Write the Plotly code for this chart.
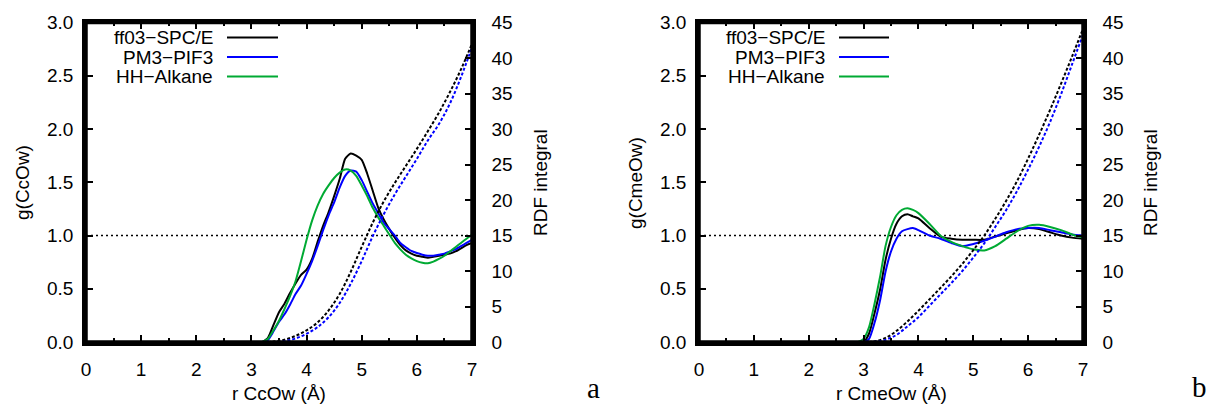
import plotly.graph_objects as go

# ---------------- data ----------------
series_names = ["ff03\u2212SPC/E", "PM3\u2212PIF3", "HH\u2212Alkane"]
series_colors = ["#000000", "#0000ff", "#00aa33"]

# Panel a: r CcOw
r_a = [3.2, 3.3, 3.4, 3.5, 3.6, 3.7, 3.8, 3.9, 4.0, 4.1, 4.2, 4.3, 4.4, 4.5, 4.6,
       4.7, 4.8, 4.9, 5.0, 5.1, 5.2, 5.3, 5.4, 5.5, 5.6, 5.7, 5.8, 5.9, 6.0, 6.1,
       6.2, 6.3, 6.4, 6.5, 6.6, 6.7, 6.8, 6.9, 7.0]
g_a_ff03 = [0.0, 0.04, 0.16, 0.28, 0.36, 0.46, 0.55, 0.63, 0.68, 0.78, 0.94, 1.09,
            1.22, 1.37, 1.53, 1.72, 1.77, 1.75, 1.71, 1.58, 1.42, 1.26, 1.15, 1.06,
            0.98, 0.91, 0.86, 0.83, 0.81, 0.80, 0.79, 0.80, 0.81, 0.82, 0.83, 0.85,
            0.88, 0.91, 0.93]
g_a_pm3 = [0.0, 0.02, 0.10, 0.19, 0.26, 0.35, 0.45, 0.53, 0.64, 0.76, 0.90, 1.05,
           1.19, 1.31, 1.45, 1.56, 1.61, 1.60, 1.52, 1.41, 1.30, 1.21, 1.12, 1.06,
           1.00, 0.93, 0.89, 0.855, 0.835, 0.82, 0.81, 0.81, 0.82, 0.83, 0.85, 0.87,
           0.90, 0.93, 0.96]
g_a_hh = [0.0, 0.03, 0.11, 0.20, 0.31, 0.43, 0.57, 0.76, 0.96, 1.14, 1.28, 1.39,
          1.47, 1.54, 1.59, 1.62, 1.61, 1.56, 1.47, 1.37, 1.26, 1.17, 1.09, 1.01,
          0.93, 0.87, 0.82, 0.785, 0.76, 0.745, 0.74, 0.755, 0.78, 0.81, 0.85, 0.89,
          0.93, 0.97, 1.01]

r_a_int = [3.2, 3.4, 3.6, 3.8, 4.0, 4.2, 4.4, 4.6, 4.8, 5.0, 5.2, 5.4, 5.6, 5.8,
           6.0, 6.2, 6.4, 6.6, 6.8, 7.0]
n_a_ff03 = [0.0, 0.06, 0.33, 0.86, 1.64, 2.76, 4.45, 6.77, 9.87, 13.4, 16.8, 19.8,
            22.4, 24.8, 27.2, 29.7, 32.3, 35.2, 38.4, 42.0]
n_a_pm3 = [0.0, 0.0, 0.12, 0.5, 1.15, 2.1, 3.5, 5.5, 8.2, 11.4, 14.9, 18.0, 20.8,
           23.3, 25.8, 28.4, 30.7, 33.6, 37.3, 41.5]

# Panel b: r CmeOw
r_b = [2.9, 3.0, 3.1, 3.2, 3.3, 3.4, 3.5, 3.6, 3.7, 3.8, 3.9, 4.0, 4.2, 4.4, 4.6,
       4.8, 5.0, 5.2, 5.4, 5.6, 5.8, 6.0, 6.2, 6.4, 6.6, 6.8, 7.0]
g_b_ff03 = [0.0, 0.0, 0.08, 0.27, 0.49, 0.77, 0.97, 1.11, 1.18, 1.20, 1.18, 1.16,
            1.07, 0.99, 0.97, 0.96, 0.96, 0.96, 0.99, 1.02, 1.05, 1.07, 1.06, 1.03,
            1.00, 0.98, 0.97]
g_b_pm3 = [0.0, 0.0, 0.03, 0.18, 0.39, 0.66, 0.85, 0.97, 1.04, 1.06, 1.07, 1.05,
           1.00, 0.97, 0.93, 0.90, 0.92, 0.95, 0.99, 1.03, 1.06, 1.07, 1.07, 1.05,
           1.03, 1.01, 1.00]
g_b_hh = [0.0, 0.03, 0.14, 0.36, 0.61, 0.90, 1.08, 1.19, 1.24, 1.255, 1.24, 1.21,
          1.11, 1.00, 0.94, 0.90, 0.87, 0.86, 0.90, 0.97, 1.04, 1.09, 1.10, 1.08,
          1.05, 1.01, 0.98]

r_b_int = [3.0, 3.2, 3.4, 3.6, 3.8, 4.0, 4.2, 4.4, 4.6, 4.8, 5.0, 5.2, 5.4, 5.6,
           5.8, 6.0, 6.2, 6.4, 6.6, 6.8, 7.0]
n_b_ff03 = [0.0, 0.09, 0.57, 1.56, 2.9, 4.4, 6.0, 7.6, 9.25, 11.0, 12.95, 15.0,
            17.35, 19.9, 22.7, 25.85, 29.2, 32.7, 36.4, 40.2, 44.1]
n_b_pm3 = [0.0, 0.03, 0.3, 1.0, 2.2, 3.5, 5.1, 6.7, 8.3, 10.0, 11.9, 13.9, 16.2,
           18.6, 21.3, 24.3, 27.5, 31.0, 34.9, 39.1, 43.3]

ref_r = [0.0, 7.0]
ref_g = [1.0, 1.0]

x_ticks = [0, 1, 2, 3, 4, 5, 6, 7]
y_ticks = [0.0, 0.5, 1.0, 1.5, 2.0, 2.5, 3.0]
y_ticklabels = ["0.0", "0.5", "1.0", "1.5", "2.0", "2.5", "3.0"]
y2_ticks = [0, 5, 10, 15, 20, 25, 30, 35, 40, 45]

x_titles = ["r CcOw (\u00c5)", "r CmeOw (\u00c5)"]
y_titles = ["g(CcOw)", "g(CmeOw)"]
y2_title = "RDF integral"
panel_tags = ["a", "b"]

# ---------------- figure ----------------
W, H = 1214, 407
FONT = "Liberation Sans, Arial, sans-serif"
FS = 19

def px(x):
    return x / W

def py(y):
    return 1 - y / H

fig = go.Figure()

panels = [
    dict(r=r_a, g=[g_a_ff03, g_a_pm3, g_a_hh], ri=r_a_int, n=[n_a_ff03, n_a_pm3],
         xa="x", ya="y", ya2="y2"),
    dict(r=r_b, g=[g_b_ff03, g_b_pm3, g_b_hh], ri=r_b_int, n=[n_b_ff03, n_b_pm3],
         xa="x2", ya="y3", ya2="y4"),
]

for p in panels:
    fig.add_trace(go.Scatter(x=ref_r, y=ref_g, mode="lines", xaxis=p["xa"], yaxis=p["ya"],
                             line=dict(color="black", width=1.6, dash="2px,3px"),
                             showlegend=False, hoverinfo="skip"))
    for vals, col in zip(p["n"], series_colors):
        fig.add_trace(go.Scatter(x=p["ri"], y=vals, mode="lines", xaxis=p["xa"], yaxis=p["ya2"],
                                 line=dict(color=col, width=2, dash="3px,2px", shape="spline"),
                                 showlegend=False))
    for vals, col, nm in zip(p["g"], series_colors, series_names):
        fig.add_trace(go.Scatter(x=p["r"], y=vals, mode="lines", name=nm,
                                 xaxis=p["xa"], yaxis=p["ya"],
                                 line=dict(color=col, width=2, shape="spline", smoothing=0.6),
                                 showlegend=False))

xdoms = [[86 / W, 472 / W], [699 / W, 1083 / W]]
ydom = [1 - 342 / H, 1 - 22.5 / H]

axis_common = dict(showgrid=False, zeroline=False, showline=True, linecolor="black",
                   linewidth=3.5, ticks="inside", tickcolor="black", tickwidth=2,
                   ticklen=7, automargin=False, layer="above traces",
                   tickfont=dict(family=FONT, size=FS, color="black"))

layout = dict(template="none", width=W, height=H,
              margin=dict(l=0, r=0, t=0, b=0, pad=0, autoexpand=False),
              paper_bgcolor="white", plot_bgcolor="white", showlegend=False)

names = [("xaxis", "yaxis", "yaxis2", "x", "y", "y2"),
         ("xaxis2", "yaxis3", "yaxis4", "x2", "y3", "y4")]
for i, (xn, yn, y2n, xr, yr, y2r) in enumerate(names):
    layout[xn] = dict(axis_common, domain=xdoms[i], anchor=yr, range=[0, 7],
                      tickvals=x_ticks, mirror="ticks", ticklabelstandoff=7,
                      minor=dict(dtick=0.5, ticks="inside", ticklen=4, tickwidth=1.5,
                                 tickcolor="black"))
    layout[yn] = dict(axis_common, domain=ydom, anchor=xr, range=[0, 3],
                      tickvals=y_ticks, ticktext=y_ticklabels, side="left",
                      ticklabelstandoff=5)
    layout[y2n] = dict(axis_common, domain=ydom, anchor=xr, range=[0, 45],
                       tickvals=y2_ticks, side="right", overlaying=yr,
                       ticklabelstandoff=12)

fig.update_layout(**layout)

ann = []
shapes = []
tfont = dict(family=FONT, size=FS, color="black")
xt_pos = [(279, 393), (891, 393)]
yt_pos = [(22, 183), (635, 183)]
y2t_pos = [(540, 183), (1150, 183)]
tag_pos = [(593, 388), (1199, 387)]
leg_text_x = [215, 827]
leg_line_x = [(227, 278), (839, 889)]
leg_rows = [37.5, 57, 76.5]
frame_refs = [("x domain", "y domain"), ("x2 domain", "y3 domain")]
for i in range(2):
    shapes.append(dict(type="rect", xref=frame_refs[i][0], yref=frame_refs[i][1],
                       x0=0, x1=1, y0=0, y1=1, layer="above",
                       line=dict(color="black", width=3.5)))
    ann.append(dict(x=px(xt_pos[i][0]), y=py(xt_pos[i][1]), xref="paper", yref="paper",
                    text=x_titles[i], showarrow=False, font=tfont,
                    xanchor="center", yanchor="middle"))
    ann.append(dict(x=px(yt_pos[i][0]), y=py(yt_pos[i][1]), xref="paper", yref="paper",
                    text=y_titles[i], showarrow=False, font=tfont, textangle=-90,
                    xanchor="center", yanchor="middle"))
    ann.append(dict(x=px(y2t_pos[i][0]), y=py(y2t_pos[i][1]), xref="paper", yref="paper",
                    text=y2_title, showarrow=False, font=tfont, textangle=-90,
                    xanchor="center", yanchor="middle"))
    ann.append(dict(x=px(tag_pos[i][0]), y=py(tag_pos[i][1]), xref="paper", yref="paper",
                    text=panel_tags[i], showarrow=False,
                    font=dict(family="Liberation Serif, Times New Roman, serif", size=29,
                              color="black"),
                    xanchor="center", yanchor="middle"))
    for j, (nm, col) in enumerate(zip(series_names, series_colors)):
        ann.append(dict(x=px(leg_text_x[i]), y=py(leg_rows[j]), xref="paper", yref="paper",
                        text=nm, showarrow=False, font=tfont,
                        xanchor="right", yanchor="middle"))
        shapes.append(dict(type="line", xref="paper", yref="paper",
                           x0=px(leg_line_x[i][0]), x1=px(leg_line_x[i][1]),
                           y0=py(leg_rows[j]), y1=py(leg_rows[j]),
                           line=dict(color=col, width=2)))

fig.update_layout(annotations=ann, shapes=shapes)
fig.write_html("out.html", config={"displayModeBar": False},
               post_script="document.body.style.margin='0';document.body.style.overflow='hidden';")
